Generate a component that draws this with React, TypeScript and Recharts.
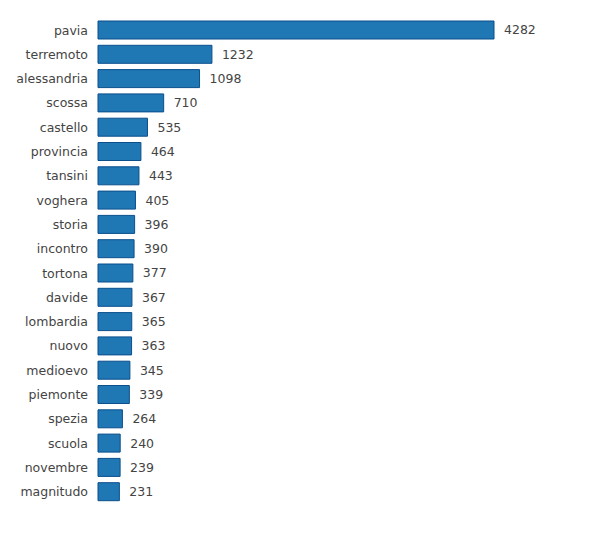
import { BarChart, Bar, XAxis, YAxis, LabelList } from 'recharts';

const words = [
  'pavia', 'terremoto', 'alessandria', 'scossa', 'castello', 'provincia', 'tansini',
  'voghera', 'storia', 'incontro', 'tortona', 'davide', 'lombardia', 'nuovo',
  'medioevo', 'piemonte', 'spezia', 'scuola', 'novembre', 'magnitudo',
];
const counts = [
  4282, 1232, 1098, 710, 535, 464, 443, 405, 396, 390, 377, 367, 365, 363, 345, 339,
  264, 240, 239, 231,
];

const data = words.map((word, i) => ({ word, count: counts[i] }));

const font = 'DejaVu Sans, sans-serif';

export default function App() {
  return (
    <div style={{ width: 592, height: 537, background: '#fff' }}>
      <BarChart
        width={592}
        height={537}
        data={data}
        layout="vertical"
        margin={{ top: 10, right: 106, bottom: 41, left: 0 }}
        barSize={18}
      >
        <XAxis type="number" domain={[0, 4282]} hide />
        <YAxis
          type="category"
          dataKey="word"
          width={90}
          axisLine={false}
          tickLine={false}
          tickMargin={4}
          interval={0}
          tick={{ fill: '#444', fontSize: 12.5, fontFamily: font }}
        />
        <Bar
          dataKey="count"
          fill="#1f77b4"
          stroke="#0b4f8c"
          strokeWidth={1}
          isAnimationActive={false}
        >
          <LabelList
            dataKey="count"
            position="right"
            offset={10}
            style={{ fill: '#444', fontSize: 12.5, fontFamily: font }}
          />
        </Bar>
      </BarChart>
    </div>
  );
}
